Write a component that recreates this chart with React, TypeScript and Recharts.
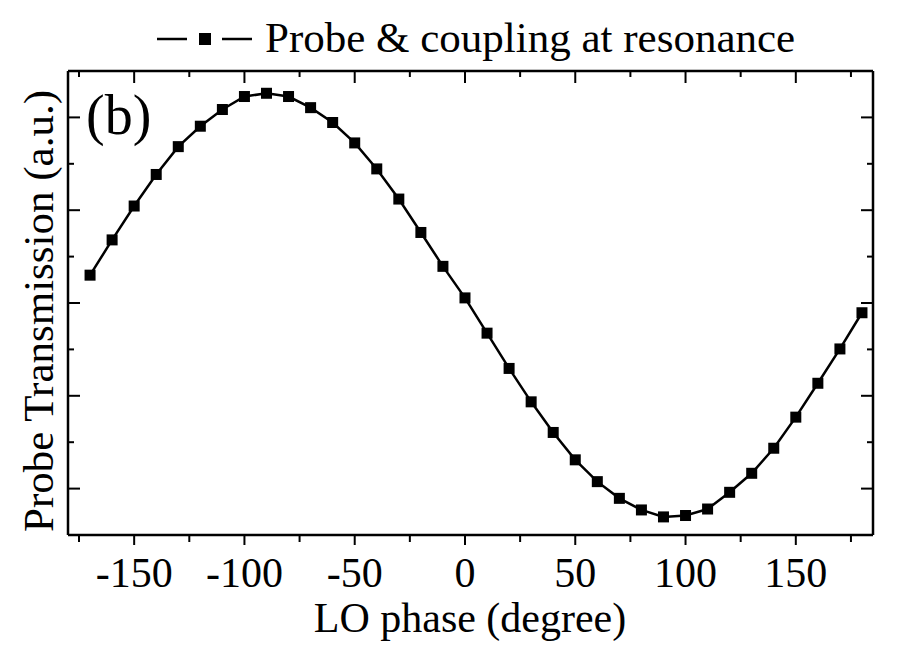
import React from 'react';
import { LineChart, Line, XAxis, YAxis, Legend, Customized } from 'recharts';

const phases = [-170, -160, -150, -140, -130, -120, -110, -100, -90, -80, -70, -60, -50, -40, -30, -20, -10, 0, 10, 20, 30, 40, 50, 60, 70, 80, 90, 100, 110, 120, 130, 140, 150, 160, 170, 180];
const transmission = [5.60, 6.36, 7.09, 7.77, 8.37, 8.81, 9.17, 9.45, 9.52, 9.45, 9.21, 8.89, 8.45, 7.89, 7.24, 6.52, 5.79, 5.11, 4.35, 3.59, 2.87, 2.21, 1.62, 1.15, 0.79, 0.54, 0.39, 0.42, 0.56, 0.92, 1.33, 1.87, 2.54, 3.27, 4.01, 4.79];
const xMajorTicks = [-150, -100, -50, 0, 50, 100, 150];
const xAllTicks = [-175, -150, -125, -100, -75, -50, -25, 0, 25, 50, 75, 100, 125, 150, 175];
const yAllTicks = [1, 2, 3, 4, 5, 6, 7, 8, 9];
const yMajorTicks = [1, 3, 5, 7, 9];
const seriesName = 'Probe & coupling at resonance';
const xTitle = 'LO phase (degree)';
const yTitle = 'Probe Transmission (a.u.)';
const panelLabel = '(b)';

const data = phases.map((p, i) => ({ phase: p, v: transmission[i] }));

const FONT = '"Liberation Serif", "Times New Roman", serif';
const AX = 2.5;

const BottomTick = (props: any) => {
  const { x, y, payload } = props;
  const major = xMajorTicks.includes(payload.value);
  return (
    <g>
      <line x1={x} x2={x} y1={y} y2={y + (major ? 10 : 7)} stroke="#000" strokeWidth={2} />
      {major && (
        <text x={x} y={y + 52} textAnchor="middle" fontFamily={FONT} fontSize={42} fill="#000">
          {payload.value}
        </text>
      )}
    </g>
  );
};

const TopTick = (props: any) => {
  const { x, y, payload } = props;
  const major = xMajorTicks.includes(payload.value);
  return <line x1={x} x2={x} y1={y} y2={y + (major ? 12 : 6)} stroke="#000" strokeWidth={2} />;
};

const LeftTick = (props: any) => {
  const { x, y, payload } = props;
  const major = yMajorTicks.includes(payload.value);
  return <line x1={x} x2={x + (major ? 12 : 6)} y1={y} y2={y} stroke="#000" strokeWidth={2} />;
};

const RightTick = (props: any) => {
  const { x, y, payload } = props;
  const major = yMajorTicks.includes(payload.value);
  return <line x1={x} x2={x - (major ? 12 : 6)} y1={y} y2={y} stroke="#000" strokeWidth={2} />;
};

const SquareDot = (props: any) => {
  const { cx, cy, index } = props;
  if (cx == null || cy == null) return <g key={`d${index}`} />;
  return <rect key={`d${index}`} x={cx - 5.5} y={cy - 5.5} width={11} height={11} fill="#000" />;
};

const LegendContent = () => (
  <svg width={898} height={70} style={{ display: 'block' }}>
    <line x1={157} x2={187} y1={39} y2={39} stroke="#000" strokeWidth={2.5} />
    <rect x={199} y={33} width={12} height={12} fill="#000" />
    <line x1={222} x2={252} y1={39} y2={39} stroke="#000" strokeWidth={2.5} />
    <text x={265} y={52} fontFamily={FONT} fontSize={43} fill="#000">{seriesName}</text>
  </svg>
);

const Extras = () => (
  <g>
    <text x={86} y={134} fontFamily={FONT} fontSize={56} fill="#000">{panelLabel}</text>
    <text x={470} y={632} textAnchor="middle" fontFamily={FONT} fontSize={42} fill="#000">{xTitle}</text>
    <text
      x={0}
      y={0}
      transform="translate(53, 311) rotate(-90)"
      textAnchor="middle"
      fontFamily={FONT}
      fontSize={43}
      fill="#000"
    >
      {yTitle}
    </text>
  </g>
);

export default function App() {
  return (
    <div style={{ width: 898, height: 650, background: '#fff' }}>
      <style>{`body{margin:0;background:#fff}`}</style>
      <LineChart width={898} height={650} data={data} margin={{ top: 0, right: 24, left: 67, bottom: 114 }}>
        <Legend verticalAlign="top" align="left" height={70} content={LegendContent} wrapperStyle={{ top: 0, left: 0, width: 898, height: 70 }} />
        <XAxis
          xAxisId="bottom"
          dataKey="phase"
          type="number"
          domain={[-180, 185]}
          ticks={xAllTicks}
          interval={0}
          orientation="bottom"
          height={1}
          tickSize={0}
          tickMargin={0}
          tickLine={false}
          tick={BottomTick}
          axisLine={{ stroke: '#000', strokeWidth: AX }}
          allowDataOverflow
        />
        <XAxis
          xAxisId="top"
          dataKey="phase"
          type="number"
          domain={[-180, 185]}
          ticks={xAllTicks}
          interval={0}
          orientation="top"
          height={1}
          tickSize={0}
          tickMargin={0}
          tickLine={false}
          tick={TopTick}
          axisLine={{ stroke: '#000', strokeWidth: AX }}
          allowDataOverflow
        />
        <YAxis
          yAxisId="left"
          type="number"
          domain={[0, 10]}
          ticks={yAllTicks}
          interval={0}
          orientation="left"
          width={1}
          tickSize={0}
          tickMargin={0}
          tickLine={false}
          tick={LeftTick}
          axisLine={{ stroke: '#000', strokeWidth: AX }}
          allowDataOverflow
        />
        <YAxis
          yAxisId="right"
          type="number"
          domain={[0, 10]}
          ticks={yAllTicks}
          interval={0}
          orientation="right"
          width={1}
          tickSize={0}
          tickMargin={0}
          tickLine={false}
          tick={RightTick}
          axisLine={{ stroke: '#000', strokeWidth: AX }}
          allowDataOverflow
        />
        <Line
          xAxisId="bottom"
          yAxisId="left"
          dataKey="v"
          name={seriesName}
          stroke="#000"
          strokeWidth={2.5}
          dot={SquareDot}
          activeDot={false}
          isAnimationActive={false}
        />
        <Customized component={Extras} />
      </LineChart>
    </div>
  );
}
